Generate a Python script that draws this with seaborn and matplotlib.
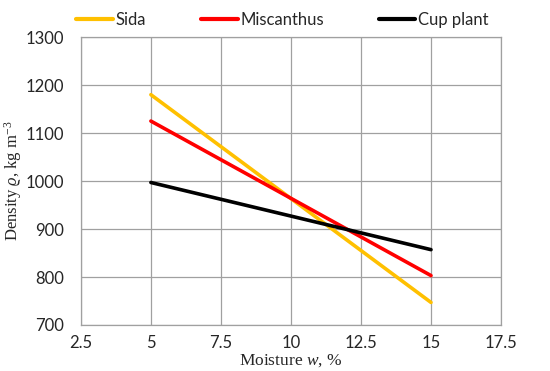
import numpy as np
import pandas as pd
import matplotlib
matplotlib.use("Agg")
import matplotlib.pyplot as plt
import seaborn as sns

moisture = [5, 15]
sida = [1180, 747]
miscanthus = [1125, 803]
cup_plant = [997, 857]
series_names = ["Sida", "Miscanthus", "Cup plant"]
colors = ["#FFC000", "#FF0000", "#000000"]
xticks = [2.5, 5, 7.5, 10, 12.5, 15, 17.5]
xtick_labels = ["2.5", "5", "7.5", "10", "12.5", "15", "17.5"]
yticks = [700, 800, 900, 1000, 1100, 1200, 1300]

df = pd.DataFrame({
    "Moisture": moisture * 3,
    "Density": sida + miscanthus + cup_plant,
    "Series": [s for s in series_names for _ in moisture],
})

sns.set_style("white")
plt.rcParams['font.family'] = ['Lato', 'DejaVu Sans']
plt.rcParams['mathtext.fontset'] = 'custom'
plt.rcParams['mathtext.it'] = 'Liberation Serif:italic'
plt.rcParams['mathtext.rm'] = 'Liberation Serif'
plt.rcParams['mathtext.cal'] = 'Liberation Serif'

fig = plt.figure(figsize=(5.5, 3.71), dpi=100)
ax = fig.add_axes([0.147, 0.124, 0.764, 0.776])
sns.lineplot(data=df, x="Moisture", y="Density", hue="Series",
             palette=dict(zip(series_names, colors)), linewidth=2.6, ax=ax,
             legend=True)

ax.set_xlim(2.5, 17.5)
ax.set_ylim(700, 1300)
ax.set_xticks(xticks)
ax.set_xticklabels(xtick_labels)
ax.set_yticks(yticks)
ax.grid(True, color="#A0A0A0", linewidth=0.9)
for s in ax.spines.values():
    s.set_color("#A0A0A0")
    s.set_linewidth(0.9)
ax.tick_params(axis="both", length=0, labelsize=12)
ax.tick_params(axis="x", pad=7)
ax.tick_params(axis="y", pad=12)

ax.set_xlabel("Moisture $w$, %", fontfamily="Liberation Serif", fontsize=12.5, labelpad=1)
ax.set_ylabel("Density $\\varrho$, kg m$^{-3}$", fontfamily="Liberation Serif", fontsize=12, labelpad=1)

leg = ax.legend(loc="lower left", bbox_to_anchor=(-0.027, 1.01), ncol=3, frameon=False,
                fontsize=12, handlelength=2.2, handletextpad=0.15, columnspacing=3.3,
                borderaxespad=0)
for line in leg.get_lines():
    line.set_linewidth(3)

fig.savefig("out.png", dpi=100)
